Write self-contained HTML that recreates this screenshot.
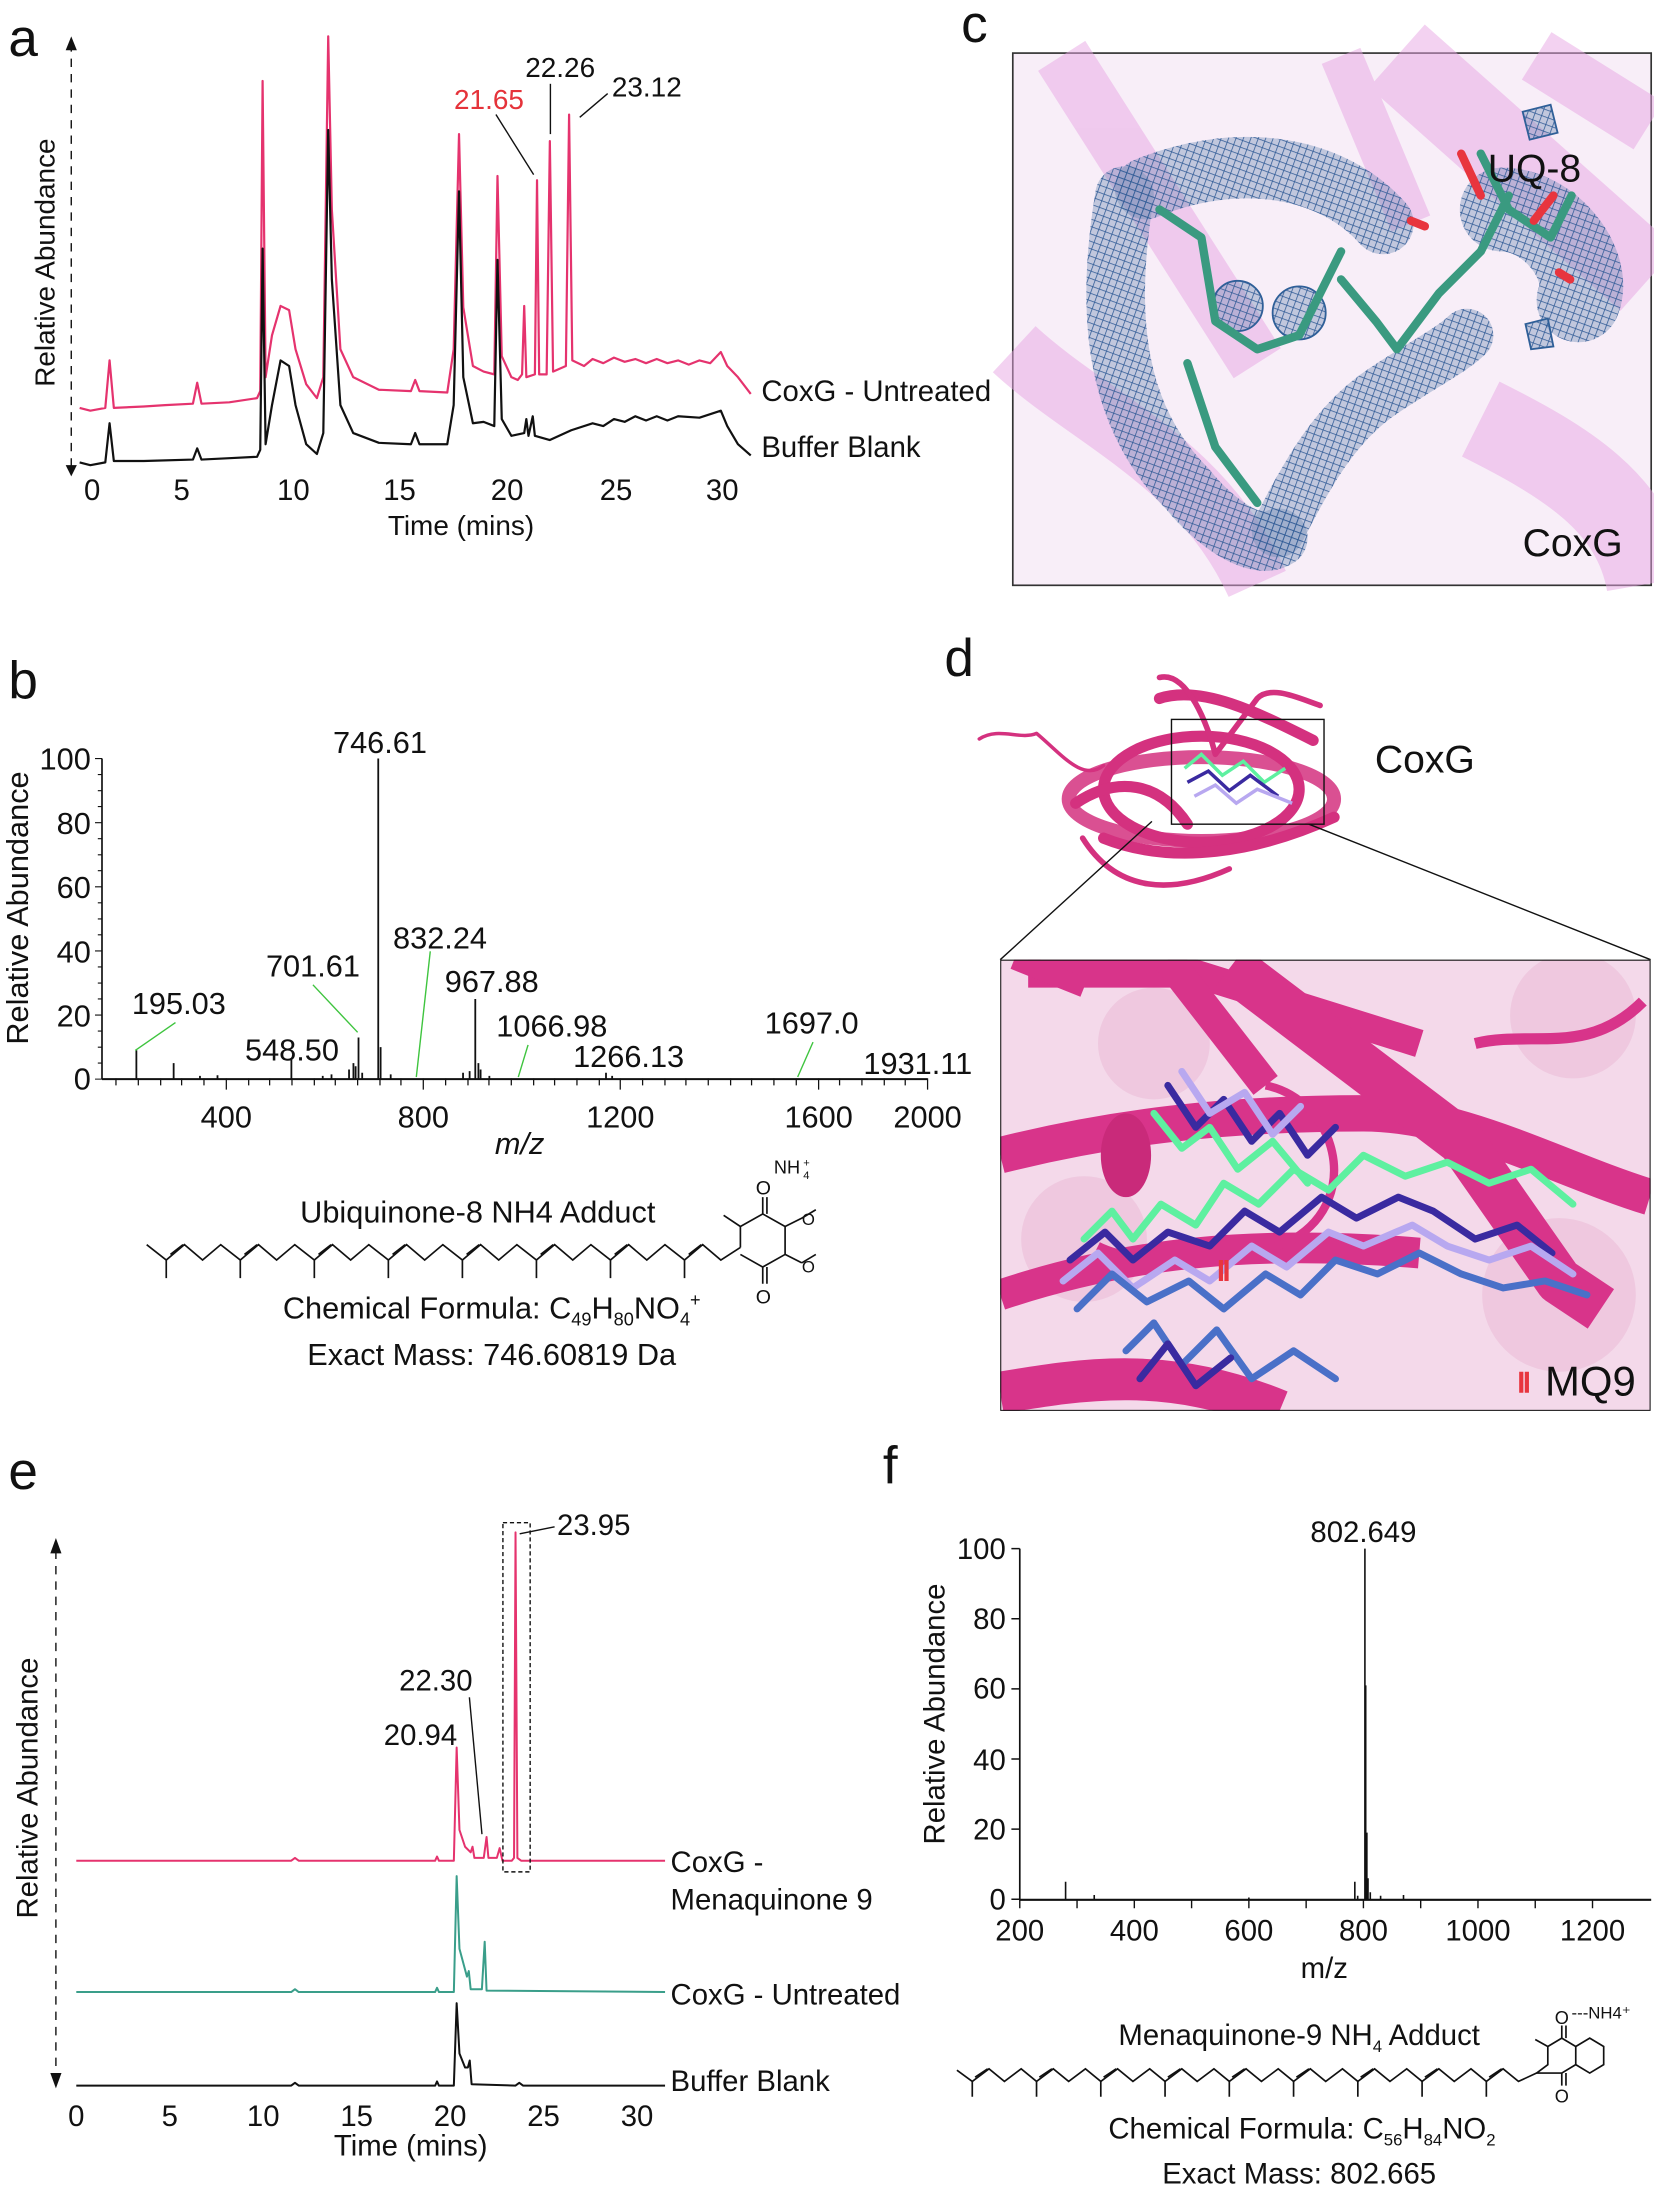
<!DOCTYPE html>
<html><head><meta charset="utf-8"><style>
html,body{margin:0;padding:0;background:#fff;}
svg{display:block;}
text{font-family:"Liberation Sans",sans-serif;fill:#111;}
</style></head><body>
<svg width="1654" height="2188" viewBox="0 0 1184 1566.3" xmlns="http://www.w3.org/2000/svg">
<defs>
<pattern id="mesh" width="5" height="5" patternUnits="userSpaceOnUse" patternTransform="rotate(20)">
<rect width="5" height="5" fill="#6f8cb5" opacity="0.4"/>
<path d="M0 0 L5 0 M0 0 L0 5" stroke="#2f5a95" stroke-width="1.1"/>
</pattern>
</defs>

<!-- ===== Panel a ===== -->
<text x="6" y="40" font-size="38">a</text>
<line x1="51" y1="334" x2="51" y2="34" stroke="#111" stroke-width="1" stroke-dasharray="6,5"/>
<path d="M47,36 L51,26 L55,36 Z" fill="#111"/>
<path d="M47,333 L51,341 L55,333 Z" fill="#111"/>
<text transform="translate(39,188) rotate(-90)" font-size="20" text-anchor="middle">Relative Abundance</text>
<g transform="translate(57,0) scale(15.3,1)" fill="none" stroke-linejoin="round">
<path vector-effect="non-scaling-stroke" stroke="#e5336e" stroke-width="2.2" d="M0,292 L0.5,294 L1.2,292 L1.4,258 L1.6,292 L3,291 L4,290 L5.3,289 L5.5,274 L5.7,289 L7,288 L8.3,285 L8.45,280 L8.56,58 L8.7,270 L9.0,240 L9.4,219 L9.8,222 L10.1,250 L10.6,275 L11.1,285 L11.4,270 L11.63,26 L11.8,150 L12.2,250 L12.8,270 L14,279 L15.5,280 L15.7,272 L15.9,280 L17.2,281 L17.5,250 L17.75,96 L17.95,220 L18.4,262 L18.9,266 L19.4,268 L19.55,126 L19.75,255 L20.2,270 L20.5,272 L20.7,268 L20.8,219 L20.9,270 L21.3,268 L21.4,129 L21.5,268 L21.85,268 L22.0,101 L22.15,266 L22.75,262 L22.9,82 L23.05,258 L23.6,262 L24,257 L24.5,260 L25,256 L25.5,259 L26,257 L26.5,260 L27,257 L27.5,260 L28,258 L28.5,261 L29,258 L29.5,260 L30,252 L30.3,262 L30.8,270 L31.4,282"/>
<path vector-effect="non-scaling-stroke" stroke="#111" stroke-width="2.2" d="M0,331 L0.5,333 L1.2,331 L1.4,303 L1.6,330 L3,330 L5.3,329 L5.5,321 L5.7,329 L7,328 L8.3,327 L8.45,322 L8.56,178 L8.7,318 L9.0,290 L9.4,258 L9.8,262 L10.1,290 L10.6,318 L11.1,325 L11.4,310 L11.63,93 L11.8,200 L12.2,290 L12.8,310 L14,317 L15.5,318 L15.7,310 L15.9,318 L17.2,318 L17.5,290 L17.75,137 L17.95,270 L18.4,303 L18.9,302 L19.4,305 L19.55,186 L19.75,300 L20.2,312 L20.8,310 L20.9,300 L21.0,312 L21.2,298 L21.3,312 L22,315 L23,308 L24,303 L24.5,305 L25,300 L25.5,302 L26,298 L26.5,301 L27,298 L27.5,301 L28,298 L29,299 L30,294 L30.3,305 L30.8,318 L31.4,326"/>
</g>
<g font-size="21" text-anchor="middle">
<text x="66" y="358">0</text><text x="130" y="358">5</text><text x="210" y="358">10</text><text x="286" y="358">15</text><text x="363" y="358">20</text><text x="441" y="358">25</text><text x="517" y="358">30</text>
</g>
<text x="330" y="383" font-size="20" text-anchor="middle">Time (mins)</text>
<text x="350" y="78" font-size="20" text-anchor="middle" style="fill:#e5333a">21.65</text>
<text x="401" y="55" font-size="20" text-anchor="middle">22.26</text>
<text x="463" y="69" font-size="20" text-anchor="middle">23.12</text>
<line x1="355" y1="82" x2="382" y2="125" stroke="#111" stroke-width="1"/>
<line x1="394" y1="60" x2="394" y2="96" stroke="#111" stroke-width="1"/>
<line x1="435" y1="67" x2="415" y2="84" stroke="#111" stroke-width="1"/>
<text x="545" y="287" font-size="21">CoxG - Untreated</text>
<text x="545" y="327" font-size="21">Buffer Blank</text>

<!-- ===== Panel c ===== -->
<text x="688" y="30" font-size="38">c</text>
<rect x="725" y="38" width="457" height="381" fill="#f8eef8" stroke="#333" stroke-width="1.2"/>
<g opacity="0.5" fill="none" stroke="#e8a6e4" stroke-linecap="butt">
<path d="M760,40 L900,260" stroke-width="40"/>
<path d="M1000,40 L1180,200" stroke-width="60"/>
<path d="M1100,40 L1180,90" stroke-width="40"/>
<path d="M726,250 C780,300 860,330 900,418" stroke-width="45"/>
<path d="M1060,300 C1120,330 1170,360 1180,418" stroke-width="60"/>
<path d="M960,40 L1010,160" stroke-width="30"/>
</g>
<g fill="none" stroke="url(#mesh)" stroke-linecap="round">
<path d="M820,135 C880,110 950,115 990,160" stroke-width="44"/>
<path d="M805,140 C790,230 800,300 850,350 C870,375 900,395 915,385" stroke-width="42"/>
<path d="M915,380 C940,330 960,300 990,280 C1020,260 1040,250 1050,240" stroke-width="38"/>
<path d="M1075,150 C1110,150 1140,190 1130,215" stroke-width="60"/>
</g>
<g fill="none" stroke="#2f5f98" stroke-width="1.3">
<circle cx="886" cy="219" r="18" fill="url(#mesh)"/>
<circle cx="930" cy="224" r="19" fill="url(#mesh)"/>
<path d="M1090,80 L1110,75 L1115,95 L1095,100 Z" fill="url(#mesh)"/>
<path d="M1092,232 L1108,228 L1112,248 L1096,250 Z" fill="url(#mesh)"/>
</g>
<g fill="none" stroke="#3a9a80" stroke-width="6" stroke-linecap="round" stroke-linejoin="round">
<path d="M830,150 L860,170 L870,230 L900,250 L930,240 L950,200 L960,180"/>
<path d="M960,200 L985,230 L1000,250 L1030,210 L1060,180 L1080,140"/>
<path d="M850,260 L870,320 L900,360"/>
<path d="M1060,110 L1080,150 L1110,170 L1125,140"/>
</g>
<g stroke="#e8353e" stroke-width="6" stroke-linecap="round">
<line x1="1046" y1="110" x2="1060" y2="140"/><line x1="1098" y1="158" x2="1112" y2="140"/><line x1="1010" y1="158" x2="1020" y2="162"/><line x1="1116" y1="195" x2="1124" y2="200"/>
</g>
<text x="1065" y="130" font-size="28">UQ-8</text>
<text x="1090" y="398" font-size="28">CoxG</text>

<!-- ===== Panel b ===== -->
<text x="6" y="500" font-size="38">b</text>
<line x1="73" y1="543" x2="73" y2="772.5" stroke="#111" stroke-width="1.2"/>
<line x1="73" y1="772.5" x2="664" y2="772.5" stroke="#111" stroke-width="1.5"/>
<g stroke="#111" stroke-width="0.8">
<path d="M73,543 h-5 M73,588.9 h-5 M73,634.8 h-5 M73,680.7 h-5 M73,726.6 h-5 M73,772.5 h-5"/>
<path d="M73,554.5 h-3 M73,566 h-3 M73,577.4 h-3 M73,600.4 h-3 M73,611.9 h-3 M73,623.3 h-3 M73,646.3 h-3 M73,657.8 h-3 M73,669.2 h-3 M73,692.2 h-3 M73,703.7 h-3 M73,715.1 h-3 M73,738.1 h-3 M73,749.6 h-3 M73,761 h-3"/>
</g>
<g stroke="#111" stroke-width="0.9">
<path d="M99,772 v5 M115,772 v5 M130,772 v5 M146,772 v5 M162,772 v8 M178,772 v5 M193,772 v5 M209,772 v5 M225,772 v5 M240,772 v5 M256,772 v5 M272,772 v5 M287,772 v5 M303,772 v8 M319,772 v5 M335,772 v5 M350,772 v5 M366,772 v5 M382,772 v5 M397,772 v5 M413,772 v5 M429,772 v5 M444,772 v8 M460,772 v5 M476,772 v5 M491,772 v5 M507,772 v5 M523,772 v5 M538,772 v5 M554,772 v5 M570,772 v5 M586,772 v8 M601,772 v5 M617,772 v5 M633,772 v5 M648,772 v5 M664,772 v8 M83,772 v5"/>
</g>
<g transform="translate(36.4,772.5) scale(0.3139,-2.295)" fill="none" stroke="#111">
<path vector-effect="non-scaling-stroke" stroke-width="1.8" d="M195,0 v9 M280,0 v5 M340,0 v1 M380,0 v1.2 M548.5,0 v6 M620,0 v1 M640,0 v1.5 M680,0 v3 M690,0 v5 M695,0 v4 M701.6,0 v13 M710,0 v2 M746.6,0 v100 M752,0 v10 M775,0 v1.5 M940,0 v2 M955,0 v2.5 M967.9,0 v25 M975,0 v5 M980,0 v3 M1000,0 v1 M1266,0 v2 M1280,0 v1"/>
</g>
<g font-size="22" text-anchor="end">
<text x="65" y="551">100</text><text x="65" y="597">80</text><text x="65" y="643">60</text><text x="65" y="689">40</text><text x="65" y="735">20</text><text x="65" y="780">0</text>
</g>
<g font-size="22" text-anchor="middle">
<text x="162" y="807">400</text><text x="303" y="807">800</text><text x="444" y="807">1200</text><text x="586" y="807">1600</text><text x="664" y="807">2000</text>
</g>
<text x="372" y="826" font-size="22" font-style="italic" text-anchor="middle">m/z</text>
<text transform="translate(20,650) rotate(-90)" font-size="22" text-anchor="middle">Relative Abundance</text>
<g font-size="22" text-anchor="middle">
<text x="272" y="539">746.61</text>
<text x="128" y="726">195.03</text>
<text x="209" y="759">548.50</text>
<text x="224" y="699">701.61</text>
<text x="315" y="679">832.24</text>
<text x="352" y="710">967.88</text>
<text x="395" y="742">1066.98</text>
<text x="450" y="764">1266.13</text>
<text x="581" y="740">1697.0</text>
<text x="657" y="769">1931.11</text>
</g>
<g stroke="#3ec43e" stroke-width="1">
<line x1="125.6" y1="732" x2="96.8" y2="752"/>
<line x1="224" y1="705" x2="256" y2="739"/>
<line x1="308" y1="681" x2="298" y2="771"/>
<line x1="378" y1="748" x2="371" y2="771"/>
<line x1="582" y1="746" x2="571" y2="771"/>
</g>
<text x="342" y="875" font-size="22" text-anchor="middle">Ubiquinone-8 NH4 Adduct</text>
<g fill="none" stroke="#111" stroke-width="1.2">
<path d="M105,891 L119,902 L132,891 L145,902 L158,891 L172,902 L185,891 L198,902 L211,891 L225,902 L238,891 L251,902 L264,891 L278,902 L291,891 L304,902 L317,891 L331,902 L344,891 L357,902 L370,891 L384,902 L397,891 L410,902 L423,891 L437,902 L450,891 L463,902 L476,891 L490,902 L503,891 L516,902 L530,893"/>
<path d="M119,902 v13 M172,902 v13 M225,902 v13 M278,902 v13 M331,902 v13 M384,902 v13 M437,902 v13 M490,902 v13"/>
<path d="M122,898 L131,891 M175,898 L184,891 M228,898 L237,891 M281,898 L290,891 M334,898 L343,891 M387,898 L396,891 M440,898 L449,891 M493,898 L502,891"/>
<path d="M530,893 L530,878 L546,869 L562,878 L562,898 L546,907 L530,898"/>
<path d="M546,869 v-12 M549,869 v-12 M546,907 v12 M549,907 v12 M530,878 l-12,-8 M562,878 l12,-6 M562,898 l12,6 M574,872 l10,-6 M574,904 l10,-6"/>
</g>
<g font-size="14">
<text x="541" y="855">O</text><text x="541" y="933">O</text><text x="574" y="877" font-size="12">O</text><text x="574" y="911" font-size="12">O</text>
<text x="554" y="840" font-size="13">NH</text><text x="575" y="844" font-size="8">4</text><text x="575" y="835" font-size="8">+</text>
</g>
<text x="352" y="944" font-size="22" text-anchor="middle">Chemical Formula: C<tspan font-size="13" dy="5">49</tspan><tspan dy="-5">H</tspan><tspan font-size="13" dy="5">80</tspan><tspan dy="-5">NO</tspan><tspan font-size="13" dy="5">4</tspan><tspan font-size="13" dy="-14">+</tspan></text>
<text x="352" y="977" font-size="22" text-anchor="middle">Exact Mass: 746.60819 Da</text>

<!-- ===== Panel d ===== -->
<text x="676" y="484" font-size="38">d</text>
<g fill="none" stroke="#d4317f" stroke-linecap="round" stroke-linejoin="round">
<path d="M701,529 C715,520 730,530 742,525 C760,540 775,560 790,548" stroke-width="2.5"/>
<ellipse cx="860" cy="572" rx="95" ry="30" stroke-width="10" opacity="0.85"/>
<ellipse cx="860" cy="565" rx="70" ry="38" stroke-width="8"/>
<path d="M770,575 C800,555 830,560 850,590 M790,600 C840,620 900,610 955,585 M830,500 C860,490 900,510 940,530" stroke-width="8"/>
<path d="M830,485 C850,480 865,520 870,540 L900,500 C910,490 930,500 945,505" stroke-width="4"/>
<path d="M775,600 C800,640 840,640 880,622" stroke-width="4"/>
</g>
<g fill="none" stroke-width="2.5">
<path d="M848,550 L860,540 L875,555 L890,545 L905,560 L920,550" stroke="#5ef0a0"/>
<path d="M850,560 L865,552 L880,566 L895,555 L915,570" stroke="#3a2aa0"/>
<path d="M855,570 L870,562 L885,575 L900,565 L925,575" stroke="#b8a8f0"/>
</g>
<rect x="838.6" y="515" width="109.2" height="75" fill="none" stroke="#111" stroke-width="1"/>
<line x1="824.6" y1="588" x2="716" y2="687" stroke="#111" stroke-width="1"/>
<line x1="937" y1="590" x2="1181.6" y2="687" stroke="#111" stroke-width="1"/>
<text x="1020" y="553" font-size="28" text-anchor="middle">CoxG</text>
<svg x="716" y="687" width="465.6" height="323" viewBox="0 0 465.6 323">
<rect width="465.6" height="323" fill="#f4d9ea"/>
<g opacity="0.5" fill="#e9b7d4"><circle cx="110" cy="60" r="40"/><circle cx="410" cy="40" r="45"/><circle cx="400" cy="240" r="55"/><circle cx="60" cy="200" r="45"/></g>
<g fill="none" stroke="#d8348a" stroke-linecap="butt" stroke-linejoin="round">
<path d="M0,140 C80,120 160,110 260,110 C330,110 400,150 465,170" stroke-width="26"/>
<path d="M0,240 C90,210 180,200 300,210" stroke-width="22"/>
<path d="M20,10 L140,10 L300,60" stroke-width="20"/>
<path d="M165,5 L330,130 L400,230 L430,250" stroke-width="34"/>
<path d="M120,0 L190,90" stroke-width="22"/>
<path d="M0,310 C60,300 120,290 200,323" stroke-width="30"/>
<path d="M340,60 C380,50 420,70 460,30" stroke-width="8"/>
<path d="M190,90 C240,100 260,170 210,200 C170,220 100,220 70,205" stroke-width="6"/>
<path d="M10,0 L60,20" stroke-width="14"/>
</g>
<ellipse cx="90" cy="140" rx="18" ry="30" fill="#c92a7a"/>
<g fill="none" stroke-width="5" stroke-linejoin="round" stroke-linecap="round">
<path d="M60,200 L80,180 L95,200 L115,175 L140,190 L160,160 L185,175 L210,150 L235,165 L260,140 L290,155 L320,145 L350,160 L380,150 L410,175" stroke="#5ef0a0"/>
<path d="M50,215 L75,195 L95,215 L120,195 L150,205 L175,180 L200,195 L230,170 L255,185 L285,170 L310,180 L340,200 L370,190 L395,210" stroke="#3a2aa0"/>
<path d="M45,230 L70,210 L95,235 L125,215 L150,230 L180,205 L205,220 L235,195 L260,205 L295,190 L320,205 L350,215 L380,205 L410,225" stroke="#b8a8f0"/>
<path d="M55,250 L80,225 L105,245 L135,230 L160,250 L190,225 L215,240 L240,215 L270,225 L300,210 L330,225 L360,235 L390,230 L420,240" stroke="#4a70c8"/>
<path d="M120,90 L140,120 L160,100 L180,130 L200,110 L220,140 L240,120" stroke="#3a2aa0"/>
<path d="M110,110 L130,135 L150,120 L170,150 L195,130 L220,160" stroke="#5ef0a0"/>
<path d="M130,80 L150,110 L175,95 L195,125 L215,105" stroke="#b8a8f0"/>
<path d="M90,280 L110,260 L130,290 L155,265 L180,300 L210,280 L240,300" stroke="#4a70c8"/>
<path d="M100,300 L120,275 L140,305 L165,285" stroke="#3a2aa0"/>
</g>
<path d="M338,15 L338,30 M342,15 L342,30" stroke="#e8353e" stroke-width="3" transform="translate(-180,200)"/>
<path d="M338,15 L338,30 M342,15 L342,30" stroke="#e8353e" stroke-width="3" transform="translate(35,280)"/>
<rect width="465.6" height="323" fill="none" stroke="#111" stroke-width="1.5"/>
<text x="455" y="312" font-size="30" text-anchor="end">MQ9</text>
</svg>

<!-- ===== Panel e ===== -->
<text x="6" y="1066" font-size="38">e</text>
<line x1="40" y1="1490" x2="40" y2="1108" stroke="#111" stroke-width="1" stroke-dasharray="6,5"/>
<path d="M36,1112 L40,1101 L44,1112 Z" fill="#111"/>
<path d="M36,1484 L40,1495 L44,1484 Z" fill="#111"/>
<text transform="translate(27,1280) rotate(-90)" font-size="21" text-anchor="middle">Relative Abundance</text>
<g transform="translate(54.6,0) scale(13.38,1)" fill="none" stroke-linejoin="round">
<path vector-effect="non-scaling-stroke" stroke="#e5336e" stroke-width="2" d="M0,1332 L11.5,1332 L11.7,1330 L11.9,1332 L19.2,1332 L19.3,1329 L19.4,1332 L20.2,1332 L20.35,1251 L20.5,1310 L20.8,1322 L21.1,1326 L21.2,1322 L21.3,1330 L21.8,1330 L21.95,1315 L22.05,1330 L22.5,1330 L22.65,1323 L22.8,1332 L23.3,1332 L23.42,1330 L23.5,1097 L23.6,1330 L23.8,1332 L31.5,1332"/>
<path vector-effect="non-scaling-stroke" stroke="#3a9e8a" stroke-width="2" d="M0,1426 L11.5,1426 L11.7,1424 L11.9,1426 L19.2,1426 L19.3,1423 L19.4,1426 L20.2,1426 L20.35,1343 L20.5,1395 L20.9,1415 L21.0,1411 L21.1,1424 L21.7,1424 L21.85,1390 L21.95,1425 L31.5,1426"/>
<path vector-effect="non-scaling-stroke" stroke="#111" stroke-width="2" d="M0,1493 L11.5,1493 L11.7,1491 L11.9,1493 L19.2,1493 L19.3,1490 L19.4,1493 L20.2,1493 L20.35,1434 L20.5,1470 L20.8,1480 L20.95,1480 L21.05,1475 L21.15,1492 L23.5,1493 L23.7,1491 L23.9,1493 L31.5,1493"/>
</g>
<rect x="360" y="1090" width="19.5" height="250" fill="none" stroke="#111" stroke-width="1" stroke-dasharray="3,2"/>
<line x1="397" y1="1093" x2="372" y2="1098" stroke="#111" stroke-width="1"/>
<line x1="336" y1="1215" x2="345" y2="1313" stroke="#111" stroke-width="1"/>
<g font-size="21" text-anchor="middle">
<text x="425" y="1099">23.95</text>
<text x="312" y="1210">22.30</text>
<text x="301" y="1249">20.94</text>
</g>
<g font-size="21" text-anchor="middle">
<text x="54.6" y="1522">0</text><text x="121.5" y="1522">5</text><text x="188.4" y="1522">10</text><text x="255.3" y="1522">15</text><text x="322.2" y="1522">20</text><text x="389.1" y="1522">25</text><text x="456" y="1522">30</text>
</g>
<text x="294" y="1543" font-size="21" text-anchor="middle">Time (mins)</text>
<g font-size="21">
<text x="480" y="1340">CoxG -</text>
<text x="480" y="1367">Menaquinone 9</text>
<text x="480" y="1435">CoxG - Untreated</text>
<text x="480" y="1497">Buffer Blank</text>
</g>

<!-- ===== Panel f ===== -->
<text x="632" y="1062" font-size="38">f</text>
<line x1="730" y1="1108.6" x2="730" y2="1360" stroke="#111" stroke-width="1.2"/>
<line x1="730" y1="1360" x2="1182" y2="1360" stroke="#111" stroke-width="1.5"/>
<g stroke="#111" stroke-width="1">
<path d="M730,1108.6 h-6 M730,1158.8 h-6 M730,1209 h-6 M730,1259.2 h-6 M730,1309.4 h-6 M730,1359.6 h-6"/>
<path d="M730,1360 v6 M771,1360 v6 M812,1360 v6 M853,1360 v6 M894,1360 v6 M935,1360 v6 M976,1360 v6 M1017,1360 v6 M1058,1360 v6 M1099,1360 v6 M1140,1360 v6"/>
</g>
<g transform="translate(648,1359.6) scale(0.41,-2.51)" fill="none" stroke="#111">
<path vector-effect="non-scaling-stroke" stroke-width="1.6" d="M280,0 v5 M330,0 v1.2 M600,0 v0.5 M785,0 v5 M790,0 v1 M802.6,0 v100 M804,0 v61 M806,0 v19 M808,0 v6 M812,0 v2 M830,0 v1 M870,0 v1.2"/>
</g>
<g font-size="21" text-anchor="end">
<text x="720" y="1116">100</text><text x="720" y="1166">80</text><text x="720" y="1216">60</text><text x="720" y="1267">40</text><text x="720" y="1317">20</text><text x="720" y="1367">0</text>
</g>
<g font-size="21" text-anchor="middle">
<text x="730" y="1389">200</text><text x="812" y="1389">400</text><text x="894" y="1389">600</text><text x="976" y="1389">800</text><text x="1058" y="1389">1000</text><text x="1140" y="1389">1200</text>
</g>
<text x="948" y="1416" font-size="21" text-anchor="middle">m/z</text>
<text transform="translate(676,1227) rotate(-90)" font-size="21" text-anchor="middle">Relative Abundance</text>
<text x="976" y="1104" font-size="21" text-anchor="middle">802.649</text>
<text x="930" y="1464" font-size="21" text-anchor="middle">Menaquinone-9 NH<tspan font-size="12" dy="5">4</tspan><tspan dy="-5"> Adduct</tspan></text>
<g fill="none" stroke="#111" stroke-width="1.2">
<path d="M685,1482 L696,1490 L708,1481 L719,1490 L731,1481 L742,1490 L754,1481 L765,1490 L777,1481 L788,1490 L800,1481 L811,1490 L823,1481 L834,1490 L846,1481 L857,1490 L869,1481 L880,1490 L892,1481 L903,1490 L915,1481 L926,1490 L938,1481 L949,1490 L961,1481 L972,1490 L984,1481 L995,1490 L1007,1481 L1018,1490 L1030,1481 L1041,1490 L1053,1481 L1064,1490 L1076,1481 L1087,1490 L1100,1484"/>
<path d="M696,1490 v11 M742,1490 v11 M788,1490 v11 M834,1490 v11 M880,1490 v11 M926,1490 v11 M972,1490 v11 M1018,1490 v11 M1064,1490 v11"/>
<path d="M698,1487 L707,1481 M744,1487 L753,1481 M790,1487 L799,1481 M836,1487 L845,1481 M882,1487 L891,1481 M928,1487 L937,1481 M974,1487 L983,1481 M1020,1487 L1029,1481 M1066,1487 L1075,1481"/>
<path d="M1100,1484 L1108,1478 L1108,1465 L1118,1459 L1128,1465 L1128,1478 L1118,1484 Z"/>
<path d="M1128,1465 L1138,1459 L1148,1465 L1148,1478 L1138,1484 L1128,1478"/>
<path d="M1108,1465 l-9,-5 M1118,1459 v-9 M1121,1459 v-9 M1118,1484 v9 M1121,1484 v9"/>
</g>
<g font-size="13"><text x="1113" y="1449">O</text><text x="1113" y="1505">O</text><text x="1125" y="1445" font-size="12">---NH4⁺</text></g>
<text x="932" y="1531" font-size="21" text-anchor="middle">Chemical Formula: C<tspan font-size="12" dy="5">56</tspan><tspan dy="-5">H</tspan><tspan font-size="12" dy="5">84</tspan><tspan dy="-5">NO</tspan><tspan font-size="12" dy="5">2</tspan></text>
<text x="930" y="1563" font-size="21" text-anchor="middle">Exact Mass: 802.665</text>
</svg>
</body></html>
